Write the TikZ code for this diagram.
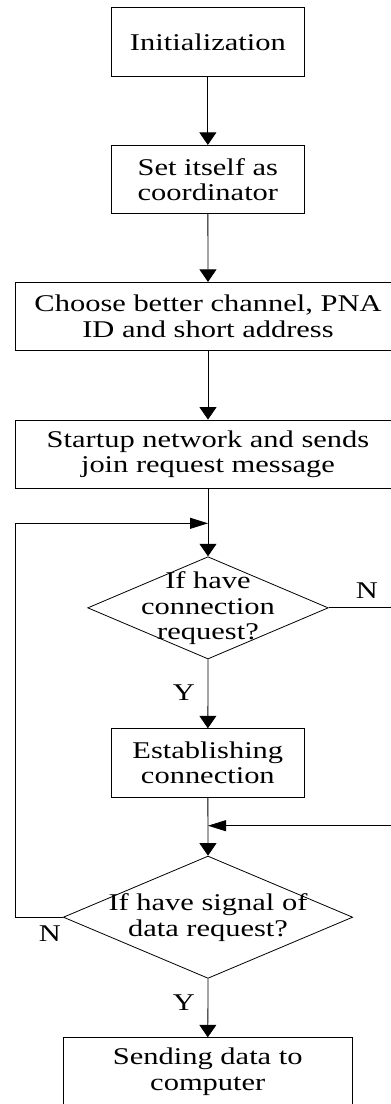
\documentclass[tikz,border=0pt]{standalone}
\usepackage{fontspec}
\setmainfont{Liberation Serif}[FakeStretch=1.27]
\usetikzlibrary{arrows.meta,shapes.geometric}
\begin{document}
\begin{tikzpicture}[x=1pt,y=-1pt,
  every node/.style={font=\fontsize{24pt}{25.5pt}\selectfont},
  procbox/.style={draw=black, line width=0.8pt, rectangle, align=center, inner sep=0pt, minimum height=68.4pt},
  decbox/.style={draw=black, line width=0.8pt, diamond, inner sep=0pt},
  dtext/.style={align=center, inner sep=0pt},
  lbl/.style={inner sep=0pt},
  conn/.style={draw=black, line width=0.8pt},
  varrow/.style={conn, -{Triangle[length=12.5pt,width=17pt]}},
  harrow/.style={conn, -{Triangle[length=18pt,width=11pt]}}
]
\clip (0,0) rectangle (391,1104);
\useasboundingbox (0,0) rectangle (391,1104);

\node[procbox, minimum width=192.3pt] (init) at (207.85,42) {Initialization};
\node[procbox, minimum width=192.3pt] (coord) at (207.85,179.5) {Set itself as\\coordinator};
\node[procbox, minimum width=386pt, minimum height=68pt] (choose) at (208,316.3) {Choose better channel, PNA\\ID and short address};
\node[procbox, minimum width=386pt, minimum height=68.3pt] (start) at (208,454.15) {Startup network and sends\\join request message};

\node[decbox, minimum width=240.6pt, minimum height=102.3pt] (d1) at (208,607.85) {};
\node[dtext] (d1t) at (208,608.3) {If have\\connection\\request?};

\node[procbox, minimum width=192.3pt, minimum height=68.6pt] (est) at (207.85,763) {Establishing\\connection};

\node[decbox, minimum width=289.4pt, minimum height=122.3pt] (d2) at (208,917.2) {};
\node[dtext] (d2t) at (208,917.6) {If have signal of\\data request?};

\node[procbox, minimum width=289pt] (send) at (207.8,1071.9) {Sending data to\\computer};

\node[lbl] (n1) at (367,591) {N};
\node[lbl] (n2) at (50,933.7) {N};
\node[lbl] (y1) at (184,693) {Y};
\node[lbl] (y2) at (184,1003) {Y};

\coordinate (j1) at (208,523.3);
\coordinate (lc) at (15,523.3);
\coordinate (j2) at (208,825.7);
\coordinate (rc) at (400,825.7);

\draw[varrow] (init.south) -- (coord.north);
\draw[varrow] (coord.south) -- (choose.north);
\draw[varrow] (choose.south) -- (start.north);
\draw[varrow] (start.south) -- (d1.north);
\draw[varrow] (d1.south) -- (est.north);
\draw[varrow] (est.south) -- (d2.north);
\draw[varrow] (d2.south) -- (send.north);
\draw[harrow] (d2.west) -| (lc) -- (j1);
\draw[harrow] (d1.east) -| (rc) -- (j2);
\end{tikzpicture}
\end{document}
